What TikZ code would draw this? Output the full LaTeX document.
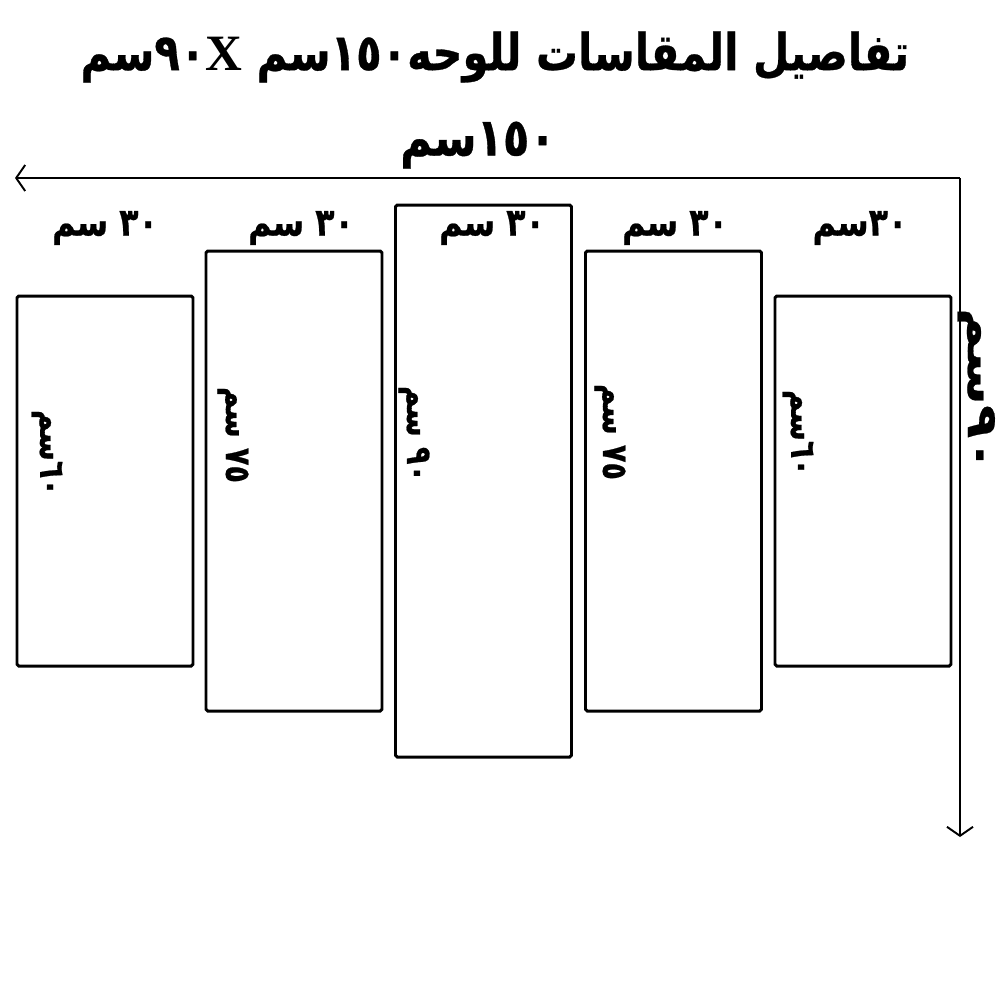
\documentclass[tikz,border=0pt]{standalone}
\usepackage{fontspec}
\newfontfamily\arabicfont[Script=Arabic, FakeStretch=0.82, BoldFeatures={FakeBold=0.6}]{DejaVu Sans}
\newfontfamily\arabicwide[Script=Arabic, FakeStretch=1.3, BoldFeatures={FakeBold=0.6}]{DejaVu Sans}
\newfontfamily\latinfont{Liberation Serif}
\TeXXeTstate=1
\usetikzlibrary{arrows.meta}
\newcommand{\rtltext}[1]{\beginR #1\endR}

\begin{document}
\begin{tikzpicture}[x=0.1mm, y=-0.1mm,
        panel/.style={rectangle, draw, line width=0.85pt, rounded corners=0.5pt, minimum width=17.6mm, inner sep=0pt},
        title_label/.style={font=\arabicfont\bfseries\fontsize{14.5}{17}\selectfont, inner sep=0pt},
        size_label/.style={font=\arabicfont\bfseries\fontsize{11}{13}\selectfont, inner sep=0pt},
        side_label/.style={font=\arabicfont\bfseries\fontsize{10}{12}\selectfont, rotate=-90, inner sep=0pt},
        dim_line/.style={line width=0.55pt, -{Straight Barb[length=0.9mm, width=2.6mm]}}
    ]
        \useasboundingbox (0,0) rectangle (1000,1000);

        % Title
        \node[title_label] (title) at (495,57) {\rtltext{تفاصيل المقاسات للوحه١٥٠سم {\latinfont X}٩٠سم}};

        % Overall dimensions
        \coordinate (corner) at (960,178);
        \coordinate (width_end) at (15,178);
        \coordinate (height_end) at (960,837);
        \draw[dim_line] (corner) -- (width_end);
        \draw[dim_line] (corner) -- (height_end);
        \node[title_label, font=\arabicfont\bfseries\fontsize{15}{18}\selectfont] (total_width) at (478,145) {\rtltext{١٥٠سم}};
        \node[side_label, font=\arabicwide\bfseries\fontsize{12}{14}\selectfont, text height=1.5ex, text depth=0.3ex] (total_height) at (977,390) {\rtltext{٩٠سم}};

        % Panels, left to right
        \foreach \n/\x/\h in {1/105/37, 2/294/46, 3/483.5/55.2, 4/673.5/46, 5/863/37} {
            \node[panel, minimum height=\h mm] (p\n) at (\x,481) {};
        }

        % Panel widths
        \node[size_label] (w1) at (105,228) {\rtltext{٣٠ سم}};
        \node[size_label] (w2) at (301,228) {\rtltext{٣٠ سم}};
        \node[size_label] (w3) at (492,228) {\rtltext{٣٠ سم}};
        \node[size_label] (w4) at (675,228) {\rtltext{٣٠ سم}};
        \node[size_label] (w5) at (860,228) {\rtltext{٣٠سم}};

        % Panel heights
        \node[side_label] (h1) at (47,453) {\rtltext{٦٠سم}};
        \node[side_label] (h2) at (233,435) {\rtltext{٧٥ سم}};
        \node[side_label] (h3) at (414,434) {\rtltext{٩٠ سم}};
        \node[side_label] (h4) at (610,432) {\rtltext{٧٥ سم}};
        \node[side_label] (h5) at (798,433) {\rtltext{٦٠سم}};

    \end{tikzpicture}
\end{document}
